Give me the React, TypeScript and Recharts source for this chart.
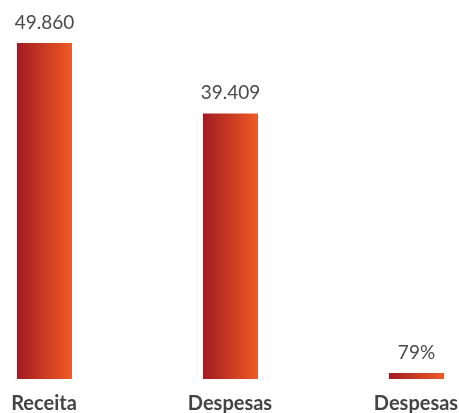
import { Bar, BarChart, LabelList, XAxis, YAxis } from 'recharts';

const categories = ['Receita', 'Despesas', 'Despesas'];
const values = [49860, 39409, 890];
const valueLabels = ['49.860', '39.409', '79%'];

const data = categories.map((name, i) => ({
  name,
  value: values[i],
  label: valueLabels[i],
}));

export default function App(): JSX.Element {
  // fixed frame so the wide chart doesn't trigger scrollbars;
  // bands are wider than the visible area, so the chart is shifted left
  return (
    <div style={{ position: 'fixed', top: 0, left: 0, width: 459, height: 413, overflow: 'hidden' }}>
      <div style={{ marginLeft: -49.5, width: 558, height: 413 }}>
        <BarChart
          width={558}
          height={413}
          data={data}
          margin={{ top: 43, right: 0, bottom: 0, left: 0 }}
          style={{ fontFamily: 'Lato, sans-serif' }}
        >
          <defs>
            <linearGradient id="barFill" x1="0" y1="0" x2="1" y2="0">
              <stop offset="0%" stopColor="#a11b22" />
              <stop offset="100%" stopColor="#f05a24" />
            </linearGradient>
          </defs>
          <XAxis
            dataKey="name"
            axisLine={false}
            tickLine={false}
            tickSize={0}
            tickMargin={17}
            height={34}
            interval={0}
            tick={{ fill: '#444', fontSize: 20, fontWeight: 700 }}
          />
          <YAxis hide domain={[0, 49860]} />
          <Bar dataKey="value" fill="url(#barFill)" barSize={55} isAnimationActive={false}>
            <LabelList dataKey="label" position="top" offset={14} fill="#4a4a4a" fontSize={19} />
          </Bar>
        </BarChart>
      </div>
    </div>
  );
}
